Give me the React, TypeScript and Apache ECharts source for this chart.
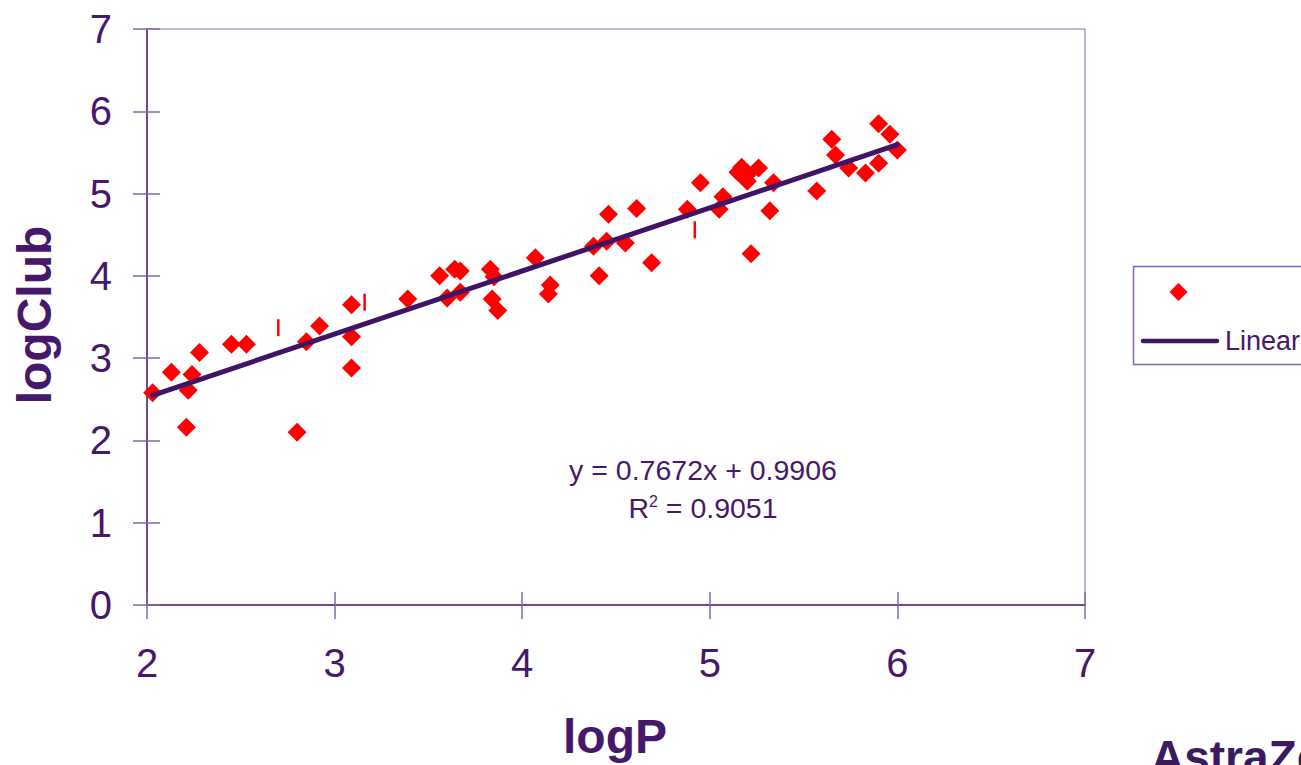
import React, { useEffect, useRef } from "react";
import * as echarts from "echarts";

const logP = [
  2.03, 2.13, 2.21, 2.22, 2.24, 2.28, 2.45, 2.53, 2.8, 2.85, 2.92, 3.09, 3.09, 3.09,
  3.39, 3.56, 3.6, 3.64, 3.67, 3.67, 3.83, 3.84, 3.85, 3.87, 4.07, 4.14, 4.15, 4.38,
  4.41, 4.45, 4.46, 4.55, 4.61, 4.69, 4.88, 4.95, 5.05, 5.07, 5.15, 5.17, 5.2, 5.2,
  5.22, 5.26, 5.32, 5.34, 5.57, 5.65, 5.67, 5.74, 5.83, 5.9, 5.9, 5.96, 6.0,
];
const logClub = [
  2.58, 2.83, 2.16, 2.61, 2.8, 3.07, 3.17, 3.17, 2.1, 3.2, 3.39, 3.65, 3.26, 2.88,
  3.72, 4.0, 3.73, 4.08, 4.06, 3.8, 4.08, 3.72, 3.99, 3.58, 4.22, 3.78, 3.89, 4.36,
  4.0, 4.42, 4.75, 4.4, 4.82, 4.16, 4.81, 5.13, 4.81, 4.96, 5.26, 5.32, 5.15, 5.23,
  4.27, 5.31, 4.79, 5.13, 5.03, 5.66, 5.47, 5.31, 5.25, 5.85, 5.37, 5.72, 5.53,
];
const markP = [2.7, 3.16, 4.92];
const markClub = [3.37, 3.68, 4.56];

const slope = 0.7672;
const intercept = 0.9906;
const rSquared = "0.9051";

const xTicks = [2, 7];
const yTicks = [0, 7];

const PURPLE = "#46186c";
const AXIS = "#4e2a7c";
const BORDER = "#8266a8";
const FONT = "Liberation Sans, Arial, sans-serif";

export default function App() {
  const ref = useRef<HTMLDivElement>(null);
  useEffect(() => {
    if (!ref.current) return;
    const chart = echarts.init(ref.current, null, { renderer: "svg" });
    const xmin = Math.min(...logP);
    const xmax = Math.max(...logP);
    const trend = [
      [xmin, slope * xmin + intercept],
      [xmax, slope * xmax + intercept],
    ];
    const baseX = {
      type: "value",
      min: xTicks[0],
      max: xTicks[1],
      interval: 1,
      gridIndex: 0,
      position: "bottom",
      splitLine: { show: false },
    };
    const baseY = {
      type: "value",
      min: yTicks[0],
      max: yTicks[1],
      interval: 1,
      gridIndex: 0,
      position: "left",
      splitLine: { show: false },
    };
    chart.setOption({
      animation: false,
      backgroundColor: "#ffffff",
      grid: {
        left: 147,
        top: 29,
        width: 938,
        height: 576,
        show: true,
        borderColor: BORDER,
        borderWidth: 1,
        backgroundColor: "transparent",
      },
      xAxis: [
        {
          ...baseX,
          axisLine: { show: true, onZero: false, lineStyle: { color: AXIS, width: 1.5 } },
          axisTick: { show: true, inside: false, length: 14, lineStyle: { color: BORDER, width: 1.5 } },
          axisLabel: { show: true, color: PURPLE, fontSize: 40, fontFamily: FONT, margin: 38 },
        },
        {
          ...baseX,
          axisLine: { show: false, onZero: false },
          axisTick: { show: true, inside: true, length: 13, lineStyle: { color: BORDER, width: 1.5 } },
          axisLabel: { show: false },
        },
      ],
      yAxis: [
        {
          ...baseY,
          axisLine: { show: true, onZero: false, lineStyle: { color: AXIS, width: 1.5 } },
          axisTick: { show: true, inside: false, length: 14, lineStyle: { color: BORDER, width: 1.5 } },
          axisLabel: { show: true, color: PURPLE, fontSize: 40, fontFamily: FONT, margin: 35 },
        },
        {
          ...baseY,
          axisLine: { show: false, onZero: false },
          axisTick: { show: true, inside: true, length: 13, lineStyle: { color: BORDER, width: 1.5 } },
          axisLabel: { show: false },
        },
      ],
      series: [
        {
          name: "logClub",
          type: "scatter",
          xAxisIndex: 0,
          yAxisIndex: 0,
          symbol: "diamond",
          symbolSize: 19,
          itemStyle: { color: "#ff0000", opacity: 1 },
          data: logP.map((x, i) => [x, logClub[i]]),
          z: 3,
        },
        {
          name: "marks",
          type: "scatter",
          xAxisIndex: 0,
          yAxisIndex: 0,
          symbol: "rect",
          symbolSize: [2.5, 17],
          itemStyle: { color: "#ff0000", opacity: 1 },
          data: markP.map((x, i) => [x, markClub[i]]),
          z: 3,
        },
        {
          name: "Linear",
          type: "line",
          xAxisIndex: 0,
          yAxisIndex: 0,
          showSymbol: false,
          symbol: "none",
          lineStyle: { color: "#3f1466", width: 5, cap: "round" },
          data: trend,
          z: 4,
        },
      ],
      graphic: [
        {
          type: "text",
          x: 703,
          y: 470,
          style: {
            text: `y = ${slope}x + ${intercept}`,
            fill: PURPLE,
            fontSize: 28.5,
            fontFamily: FONT,
            align: "center",
            verticalAlign: "middle",
          },
        },
        {
          type: "text",
          x: 703,
          y: 508,
          style: {
            text: `{r|R}{s|2}{r| = ${rSquared}}`,
            fill: PURPLE,
            fontSize: 28.5,
            fontFamily: FONT,
            align: "center",
            verticalAlign: "middle",
            rich: {
              r: { fontSize: 28.5, fill: PURPLE, fontFamily: FONT, verticalAlign: "bottom" },
              s: { fontSize: 16, fill: PURPLE, fontFamily: FONT, verticalAlign: "top", padding: [0, 0, 10, 0] },
            },
          },
        },
        {
          type: "text",
          x: 615,
          y: 736,
          style: {
            text: "logP",
            fill: PURPLE,
            fontSize: 48,
            fontWeight: "bold",
            fontFamily: FONT,
            align: "center",
            verticalAlign: "middle",
          },
        },
        {
          type: "text",
          x: 34,
          y: 315,
          rotation: Math.PI / 2,
          style: {
            text: "logClub",
            fill: PURPLE,
            fontSize: 48,
            fontWeight: "bold",
            fontFamily: FONT,
            align: "center",
            verticalAlign: "middle",
          },
        },
        {
          type: "rect",
          shape: { x: 1133.5, y: 266.5, width: 200, height: 98 },
          style: { fill: "#ffffff", stroke: BORDER, lineWidth: 1.5 },
        },
        {
          type: "polygon",
          shape: { points: [[1178.5, 283], [1187.5, 292], [1178.5, 301], [1169.5, 292]] },
          style: { fill: "#ff0000" },
        },
        {
          type: "line",
          shape: { x1: 1143, y1: 341, x2: 1217, y2: 341 },
          style: { stroke: "#3f1466", lineWidth: 4.5, lineCap: "round" },
        },
        {
          type: "text",
          x: 1225,
          y: 341,
          style: {
            text: "Linear",
            fill: PURPLE,
            fontSize: 27,
            fontFamily: FONT,
            verticalAlign: "middle",
          },
        },
        {
          type: "text",
          x: 1151,
          y: 734,
          style: {
            text: "AstraZeneca",
            fill: "#3a1a60",
            fontSize: 46,
            fontWeight: "bold",
            fontFamily: FONT,
            verticalAlign: "top",
          },
        },
      ],
    });
    return () => chart.dispose();
  }, []);
  return (
    <div
      ref={ref}
      style={{ position: "fixed", left: 0, top: 0, width: 1301, height: 765, background: "#fff" }}
    />
  );
}
